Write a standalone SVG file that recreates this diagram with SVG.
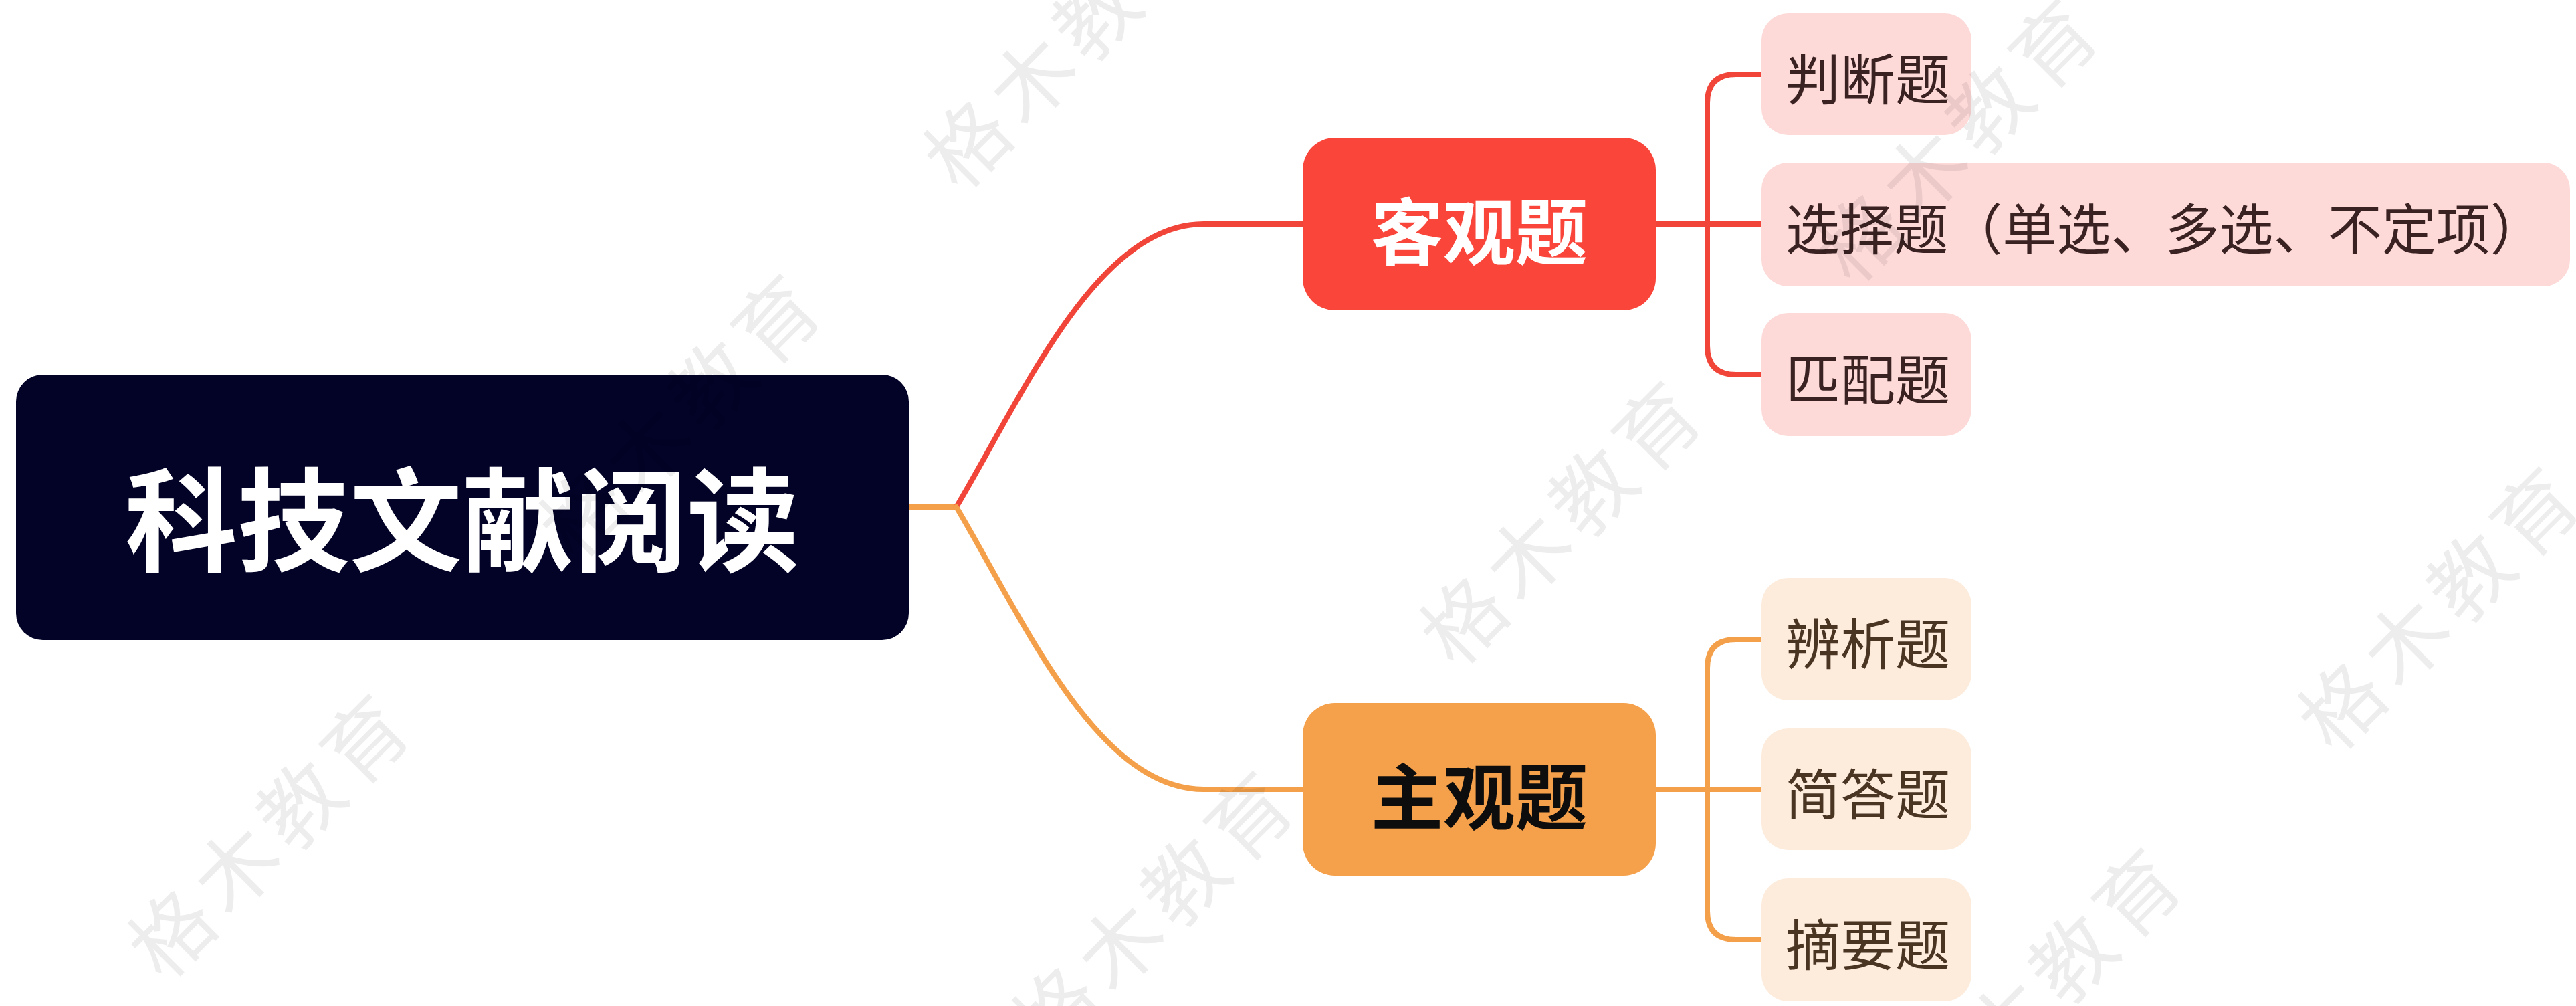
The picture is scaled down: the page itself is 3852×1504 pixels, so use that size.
<svg xmlns="http://www.w3.org/2000/svg" width="3852" height="1504" viewBox="0 0 3852 1504">
<style>
text{font-family:"Noto Sans CJK SC","Microsoft YaHei",sans-serif;dominant-baseline:central}
.root-t{font-size:168px;font-weight:700;fill:#ffffff;text-anchor:middle}
.main-t{font-size:108px;font-weight:700;text-anchor:middle}
.sub-t{font-size:82px;font-weight:400}
.red-sub rect{fill:#fdd9d8}
.org-sub rect{fill:#fdebdc}
.red-sub text{fill:#3a2222}
.org-sub text{fill:#4a3422}
.c{fill:none;stroke-linecap:round;stroke-linejoin:round}
.cr{stroke:#f2453a;stroke-width:8}
.co{stroke:#f4a04b;stroke-width:8}
.wm{font-size:122px;fill:#000000;fill-opacity:0.07;text-anchor:middle;letter-spacing:14px}
</style>
<rect width="3852" height="1504" fill="#ffffff"/>
<g id="connectors">
<path class="c co" d="M1359 758 H1430"/>
<path class="c cr" d="M1430 758 C1530 590 1640 335 1800 335 H1948"/>
<path class="c co" d="M1430 758 C1530 926 1640 1180 1800 1180 H1948"/>
<path class="c cr" d="M2476 335 H2634"/>
<path class="c cr" d="M2634 111 H2596 Q2553 111 2553 154 V517 Q2553 560 2596 560 H2634"/>
<path class="c co" d="M2476 1180 H2634"/>
<path class="c co" d="M2634 956 H2596 Q2553 956 2553 999 V1362 Q2553 1405 2596 1405 H2634"/>
</g>
<g id="root">
<rect x="24" y="560" width="1335" height="397" rx="40" fill="#030327"/>
<text class="root-t" x="691" y="767">科技文献阅读</text>
</g>
<g id="objective">
<rect x="1948" y="206" width="528" height="258" rx="48" fill="#f9453a"/>
<text class="main-t" x="2212" y="340" fill="#ffffff">客观题</text>
</g>
<g id="subjective">
<rect x="1948" y="1051" width="528" height="258" rx="48" fill="#f5a04b"/>
<text class="main-t" x="2212" y="1185" fill="#0d0d0d">主观题</text>
</g>
<g id="judge" class="red-sub">
<rect x="2634" y="20" width="314" height="182" rx="40"/>
<text class="sub-t" x="2670" y="113">判断题</text>
</g>
<g id="choice" class="red-sub">
<rect x="2634" y="243" width="1209" height="185" rx="40"/>
<text class="sub-t" x="2670" y="337" textLength="1135" lengthAdjust="spacingAndGlyphs">选择题（单选、多选、不定项）</text>
</g>
<g id="match" class="red-sub">
<rect x="2634" y="468" width="314" height="184" rx="40"/>
<text class="sub-t" x="2670" y="562">匹配题</text>
</g>
<g id="analysis" class="org-sub">
<rect x="2634" y="864" width="314" height="183" rx="40"/>
<text class="sub-t" x="2670" y="957">辨析题</text>
</g>
<g id="short" class="org-sub">
<rect x="2634" y="1089" width="314" height="182" rx="40"/>
<text class="sub-t" x="2670" y="1182">简答题</text>
</g>
<g id="summary" class="org-sub">
<rect x="2634" y="1313" width="314" height="184" rx="40"/>
<text class="sub-t" x="2670" y="1407">摘要题</text>
</g>
<g id="watermarks">
<text class="wm" transform="translate(1590 60) rotate(-45)">格木教育</text>
<text class="wm" transform="translate(1015 612) rotate(-45)">格木教育</text>
<text class="wm" transform="translate(400 1240) rotate(-45)">格木教育</text>
<text class="wm" transform="translate(2332 772) rotate(-45)">格木教育</text>
<text class="wm" transform="translate(2925 200) rotate(-45)">格木教育</text>
<text class="wm" transform="translate(1722 1355) rotate(-45)">格木教育</text>
<text class="wm" transform="translate(3050 1470) rotate(-45)">格木教育</text>
<text class="wm" transform="translate(3645 900) rotate(-45)">格木教育</text>
</g>
</svg>
